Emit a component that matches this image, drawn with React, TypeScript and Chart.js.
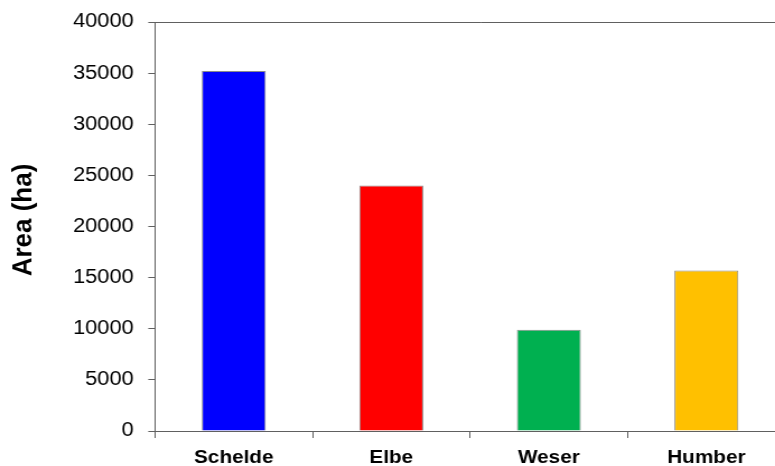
import React, { useEffect, useRef } from "react";
import { Chart, registerables } from "chart.js";

Chart.register(...registerables);

const categories = ["Schelde", "Elbe", "Weser", "Humber"];
const areaValues = [35200, 24000, 9900, 15700];
const barColors = ["#0000FF", "#FF0000", "#00B050", "#FFC000"];
const yTickMin = 0;
const yTickMax = 40000;
const yTickStep = 5000;
const yTitle = "Area (ha)";

const SX = 1.12;
const AXIS = "#606060";
const FONT = "'Liberation Sans', Arial, sans-serif";

const decor = {
  id: "decor",
  afterDraw(chart: any) {
    const { ctx, chartArea } = chart;
    ctx.save();
    ctx.strokeStyle = AXIS;
    ctx.lineWidth = 1;
    ctx.beginPath();
    ctx.moveTo(chartArea.left, Math.round(chartArea.top) + 0.5);
    ctx.lineTo(chart.width, Math.round(chartArea.top) + 0.5);
    ctx.stroke();
    ctx.restore();

    ctx.save();
    ctx.translate(24 / SX, 220);
    ctx.scale(1 / SX, 1);
    ctx.rotate(-Math.PI / 2);
    ctx.fillStyle = "#000";
    ctx.font = `bold 26px ${FONT}`;
    ctx.textAlign = "center";
    ctx.textBaseline = "middle";
    ctx.fillText(yTitle, 0, 0);
    ctx.restore();
  },
};

export default function App() {
  const ref = useRef<HTMLCanvasElement>(null);
  useEffect(() => {
    if (!ref.current) return;
    const chart = new Chart(ref.current, {
      type: "bar",
      data: {
        labels: categories,
        datasets: [
          {
            data: areaValues,
            backgroundColor: barColors,
            borderColor: "#8a8a8a",
            borderWidth: 1,
            barPercentage: 0.406,
            categoryPercentage: 1,
          },
        ],
      },
      plugins: [decor],
      options: {
        responsive: false,
        animation: false,
        layout: { padding: { top: 22, right: 19, left: 0, bottom: 0 } },
        plugins: { legend: { display: false }, tooltip: { enabled: false } },
        scales: {
          x: {
            offset: true,
            grid: {
              offset: true,
              drawOnChartArea: false,
              tickLength: 7,
              color: AXIS,
            },
            border: { color: AXIS, width: 1 },
            ticks: {
              color: "#000",
              padding: 9,
              font: { family: FONT, size: 18.5, weight: "bold" },
            },
            afterFit(scale: any) {
              scale.height = 35;
            },
          },
          y: {
            min: yTickMin,
            max: yTickMax,
            grid: {
              drawOnChartArea: false,
              tickLength: 6,
              color: AXIS,
            },
            border: { color: AXIS, width: 1 },
            ticks: {
              stepSize: yTickStep,
              color: "#000",
              padding: 13,
              font: { family: FONT, size: 19.5 },
              callback: (v: any) => String(v),
            },
            afterFit(scale: any) {
              scale.width = 138.4;
              scale.paddingTop = 0;
              scale.paddingBottom = 0;
            },
          },
        },
      },
    });
    return () => chart.destroy();
  }, []);
  return (
    <div
      style={{
        position: "fixed",
        left: 0,
        top: 0,
        width: 775,
        height: 466,
        overflow: "hidden",
        background: "#fff",
      }}
    >
      <div
        style={{
          width: 720,
          height: 466,
          transform: `scaleX(${SX})`,
          transformOrigin: "0 0",
        }}
      >
        <canvas
          ref={ref}
          width={720}
          height={466}
          style={{ width: 720, height: 466, display: "block" }}
        />
      </div>
    </div>
  );
}
